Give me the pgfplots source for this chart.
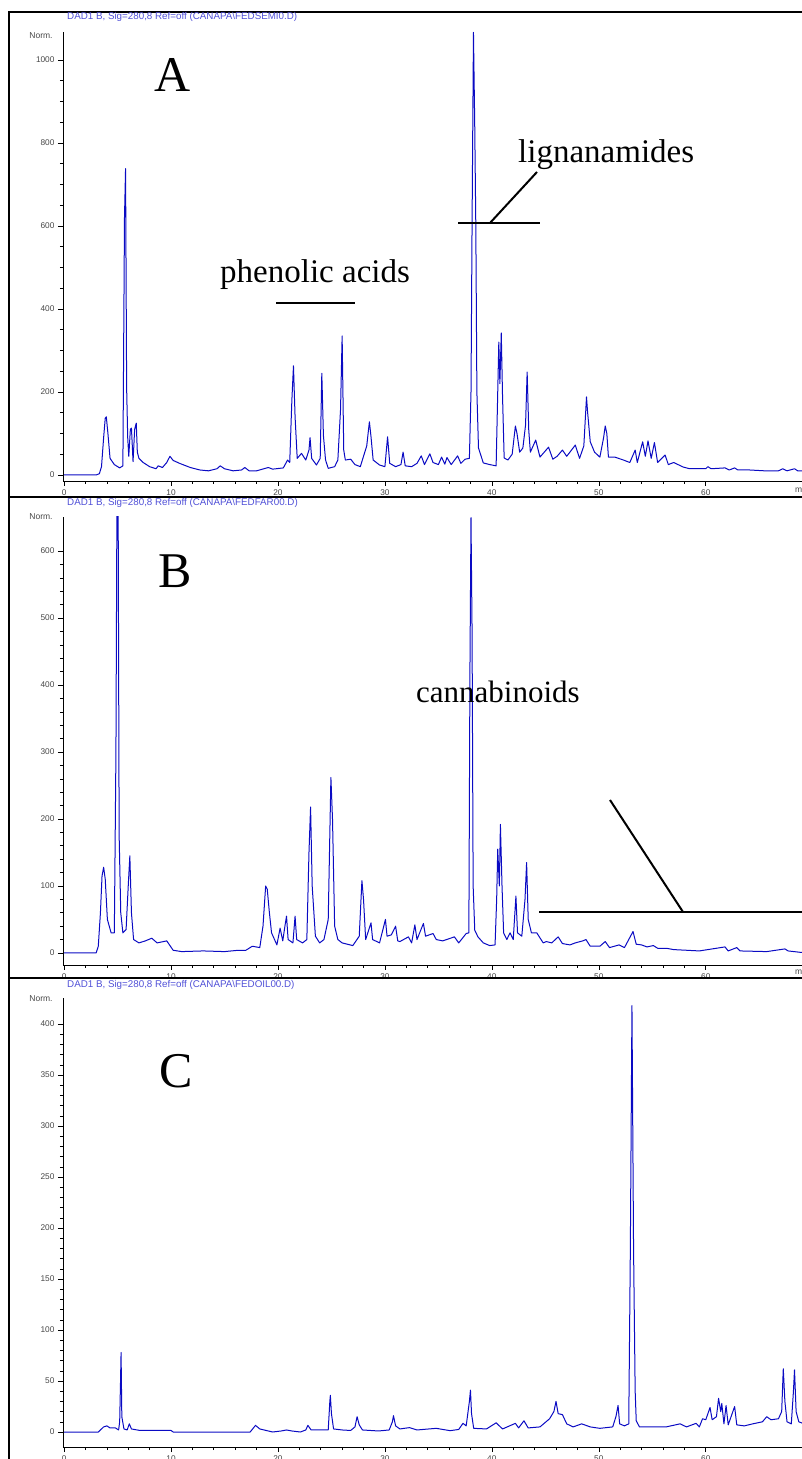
\documentclass[border=0pt]{standalone}
\usepackage{fontspec}
\setmainfont{Liberation Serif}
\setsansfont{Liberation Sans}
\usepackage{pgfplots}
\pgfplotsset{compat=1.18}

\definecolor{trace}{RGB}{10,10,195}
\definecolor{titleblue}{RGB}{80,80,215}
\definecolor{tickgray}{RGB}{70,70,70}

\pgfplotsset{
  chrom/.style={
    scale only axis, width=739pt,
    xmin=-0.1, xmax=69,
    axis x line=bottom, axis y line=left,
    axis line style={-, black, line width=0.8pt},
    tick align=outside, tick style={black, line width=0.6pt},
    major tick length=5pt, minor tick length=3pt,
    xtick={0,10,...,60}, minor x tick num=4,
    ticklabel style={font=\sffamily\fontsize{8.3}{9}\selectfont, text=tickgray},
    /pgf/number format/assume math mode=true,
    /pgf/number format/1000 sep={},
    clip=true,
    anchor=south west,
  },
  tr/.style={trace, line width=1pt, line join=round},
}

\begin{document}
\begin{tikzpicture}[x=1pt,y=1pt]
\useasboundingbox (0,0) rectangle (802,1459);
\clip (0,0) rectangle (802,1459);

% ---------- panel A ----------
\begin{axis}[chrom, at={(63pt,978pt)}, height=449pt, ymin=-14.5, ymax=1067,
  ytick={0,200,...,1000}, minor y tick num=3]
\addplot[tr] coordinates {
(0,0) (3.0,0) (3.3,3) (3.5,20) (3.7,90) (3.85,137) (3.95,140) (4.1,100) (4.3,40) (4.7,25)
(5.2,17) (5.5,22) (5.65,620) (5.75,738) (5.85,210) (5.95,90) (6.05,45) (6.2,110) (6.3,113)
(6.45,32) (6.6,110) (6.75,125) (6.85,55) (7.0,40) (7.4,30) (8.0,20) (8.6,15) (8.8,22) (9.2,18)
(9.6,30) (9.9,45) (10.2,35) (10.8,28) (11.8,18) (12.7,12) (13.5,10) (14.3,15) (14.6,22)
(15.0,15) (15.8,10) (16.6,12) (16.9,18) (17.3,10) (18.0,10) (19.1,18) (19.5,14) (20.5,17)
(20.9,36) (21.1,30) (21.3,180) (21.45,263) (21.6,140) (21.8,40) (22.2,52) (22.6,36) (22.9,60)
(23.0,90) (23.15,40) (23.6,24) (23.95,40) (24.1,245) (24.25,95) (24.45,36) (24.7,16) (25.3,20)
(25.6,36) (25.85,157) (26.0,335) (26.15,60) (26.3,36) (26.8,38) (27.2,25) (27.7,20) (28.3,70)
(28.55,128) (28.7,92) (28.9,36) (29.5,24) (30.0,20) (30.25,92) (30.45,28) (31.0,20) (31.5,25)
(31.7,55) (31.9,22) (32.5,20) (33.0,28) (33.4,46) (33.7,25) (34.2,51) (34.5,30) (35.0,25)
(35.3,43) (35.6,26) (35.8,42) (36.2,25) (36.8,46) (37.1,28) (37.5,38) (37.9,40) (38.05,200)
(38.15,605) (38.28,1066) (38.4,840) (38.5,600) (38.6,200) (38.75,65) (39.2,29) (39.8,25)
(40.4,22) (40.55,200) (40.65,320) (40.75,220) (40.88,342) (41.0,188) (41.15,41) (41.5,36)
(41.9,50) (42.2,118) (42.35,100) (42.6,55) (42.9,65) (43.15,120) (43.3,248) (43.45,108)
(43.6,55) (44.1,84) (44.5,43) (45.3,67) (45.7,38) (46.1,45) (46.6,60) (47.0,45) (47.3,55)
(47.8,72) (48.2,40) (48.6,70) (48.85,188) (48.95,152) (49.2,80) (49.6,55) (50.1,43) (50.45,90)
(50.6,118) (50.75,100) (50.9,43) (51.5,43) (52.3,36) (52.9,30) (53.4,60) (53.6,30) (54.1,80)
(54.35,45) (54.6,82) (54.9,40) (55.2,78) (55.5,30) (56.2,48) (56.5,25) (57.0,30) (57.9,19)
(58.5,15) (60.0,15) (60.2,20) (60.5,15) (61.8,17) (62.2,12) (62.7,17) (63.0,12) (64.1,12)
(65.5,10) (66.8,10) (67.2,15) (67.6,10) (68.3,15) (68.6,10) (69.2,10)
};
\end{axis}

% ---------- panel B ----------
\begin{axis}[chrom, at={(63pt,494pt)}, height=448pt, ymin=-18, ymax=651,
  ytick={0,100,...,600}, minor y tick num=4]
\addplot[tr] coordinates {
(0,0) (3.0,0) (3.2,10) (3.4,60) (3.55,115) (3.7,128) (3.85,110) (4.05,50) (4.4,30) (4.7,30)
(4.85,300) (4.95,700) (5.05,700) (5.15,175) (5.3,60) (5.5,30) (5.8,35) (6.0,100) (6.15,145)
(6.3,60) (6.5,20) (7.0,15) (7.6,18) (8.2,22) (8.7,15) (9.3,17) (9.6,18) (10.2,4) (11,2) (13,3)
(15,2) (16.3,4) (17.0,4) (17.6,10) (18.3,8) (18.6,40) (18.85,100) (19.0,95) (19.2,60)
(19.4,30) (19.9,12) (20.2,37) (20.45,18) (20.65,40) (20.8,55) (20.95,20) (21.4,15) (21.6,55)
(21.75,20) (22.3,15) (22.7,20) (22.9,150) (23.05,218) (23.2,100) (23.5,25) (23.9,15) (24.3,20)
(24.7,50) (24.95,262) (25.1,200) (25.3,40) (25.6,20) (26.0,15) (27.0,11) (27.6,25) (27.85,108)
(28.0,80) (28.2,20) (28.7,45) (28.85,20) (29.5,15) (30.05,50) (30.2,25) (30.6,27) (31.0,40)
(31.2,18) (31.4,17) (32.2,24) (32.5,15) (32.8,42) (33.0,20) (33.6,44) (33.8,25) (34.5,29)
(34.8,20) (35.4,18) (36.5,24) (36.9,15) (37.6,29) (37.85,30) (37.95,420) (38.05,650)
(38.15,480) (38.25,100) (38.4,34) (38.7,24) (39.2,15) (39.8,11) (40.3,12) (40.45,80)
(40.55,155) (40.7,100) (40.8,192) (40.95,100) (41.1,30) (41.4,20) (41.7,30) (42.0,20)
(42.25,85) (42.4,30) (42.8,25) (43.1,80) (43.25,135) (43.4,50) (43.7,30) (44.2,30) (44.8,15)
(45.1,17) (45.6,15) (46.2,24) (46.6,14) (47.3,12) (47.8,15) (48.5,18) (48.8,20) (49.2,10)
(50.1,10) (50.6,17) (51.0,8) (51.9,12) (52.4,8) (53.2,32) (53.5,13) (54.0,12) (54.5,9)
(55.1,11) (55.5,7) (56.3,7) (57,5) (59.4,3) (61.8,9) (62.1,3) (62.9,8) (63.2,3) (65.7,2)
(67.4,6) (67.7,3) (68.8,1) (69.2,1)
};
\end{axis}

% ---------- panel C ----------
\begin{axis}[chrom, at={(63pt,12pt)}, height=449pt, ymin=-14.7, ymax=425.5,
  ytick={0,50,...,400}, minor y tick num=4]
\addplot[tr] coordinates {
(0,0) (3.2,0) (3.7,5) (4.0,6) (4.3,4) (4.8,4) (5.1,2) (5.2,10) (5.28,50) (5.33,78) (5.4,15)
(5.6,3) (5.9,2) (6.1,8) (6.3,3) (7.1,1.5) (10.0,1.5) (10.2,0) (17.4,0) (17.9,6.5) (18.3,3)
(18.9,1.5) (19.5,0) (20.3,1) (20.8,2) (21.3,1) (22.1,0) (22.6,2) (22.8,6.5) (23.1,2) (24.7,2)
(24.85,30) (24.9,36) (25.0,18) (25.2,3) (26,2) (26.8,1.5) (27.2,5) (27.4,15) (27.6,7) (27.9,2)
(29.4,1) (30.4,2) (30.7,10) (30.8,16) (31.0,6) (31.4,3) (32.3,4.3) (33.0,2) (34.8,3.6)
(36.1,1.3) (36.9,2.5) (37.3,8.5) (37.6,6) (37.9,30) (38.0,41) (38.1,18) (38.3,3.6) (39.5,3)
(40.4,9) (40.7,6) (41,3) (42.2,8.5) (42.5,4) (43.0,11) (43.4,4) (44.5,5) (45.4,13) (45.8,20)
(46.0,30) (46.2,18) (46.6,17) (47.0,8) (47.6,5) (48.4,8) (49.2,5) (50.1,3.6) (51.3,5)
(51.6,15) (51.8,26) (51.95,8) (52.4,6) (52.8,8) (52.95,180) (53.1,418) (53.25,180) (53.4,40)
(53.5,11) (53.8,5) (55.1,5) (56.3,5) (57.6,8) (58.2,5) (59.1,8.5) (59.4,5) (59.7,13) (60.0,12)
(60.2,18) (60.4,24) (60.6,12) (61.0,15) (61.2,33) (61.4,20) (61.5,28) (61.7,8) (61.9,26)
(62.1,7) (62.7,25) (62.9,7) (63.6,6) (64.4,8) (65.3,10) (65.7,15) (66.1,12) (66.8,13)
(67.1,20) (67.25,62) (67.4,30) (67.6,10) (68.0,8) (68.2,40) (68.3,61) (68.45,20) (68.7,10)
(69.2,8)
};
\end{axis}

% ---------- frame and panel separators ----------
\draw[line width=1.2pt] (9,0) -- (9,1447) -- (802,1447);
\draw[line width=1.2pt] (9,962) -- (802,962);
\draw[line width=1.2pt] (9,481) -- (802,481);

% ---------- header texts ----------
\begin{scope}[every node/.style={anchor=west, inner sep=0pt, text=titleblue,
    font=\sffamily\fontsize{9.8}{11}\selectfont}]
\node at (67,1442) {DAD1 B, Sig=280,8 Ref=off (CANAPA\textbackslash FEDSEMI0.D)};
\node at (67,956) {DAD1 B, Sig=280,8 Ref=off (CANAPA\textbackslash FEDFAR00.D)};
\node at (67,474) {DAD1 B, Sig=280,8 Ref=off (CANAPA\textbackslash FEDOIL00.D)};
\end{scope}
\begin{scope}[every node/.style={inner sep=0pt, text=tickgray,
    font=\sffamily\fontsize{8.5}{9}\selectfont}]
\node at (41,1423) {Norm.};
\node at (41,942) {Norm.};
\node at (41,460) {Norm.};
\node[anchor=west] at (795,970) {min};
\node[anchor=west] at (795,488) {min};
\end{scope}

% ---------- panel letters and annotations ----------
\begin{scope}[every node/.style={inner sep=0pt, anchor=base}]
\node[font=\fontsize{50}{50}\selectfont] at (173,1367) {A};
\node[font=\fontsize{50}{50}\selectfont] at (175,871) {B};
\node[font=\fontsize{50}{50}\selectfont] at (176,371) {C};
\node[anchor=base west, font=\fontsize{33}{33}\selectfont] at (220,1176) {phenolic acids};
\node[anchor=base west, font=\fontsize{33}{33}\selectfont] at (518,1296) {lignanamides};
\node[anchor=base west, font=\fontsize{31}{31}\selectfont] at (416,756) {cannabinoids};
\end{scope}
\draw[line width=2pt] (276,1156) -- (355,1156);
\draw[line width=2pt] (458,1236) -- (540,1236);
\draw[line width=2pt] (490,1236) -- (537,1287);
\draw[line width=2pt] (539,547) -- (802,547);
\draw[line width=2pt] (683,547) -- (610,659);
\end{tikzpicture}
\end{document}
